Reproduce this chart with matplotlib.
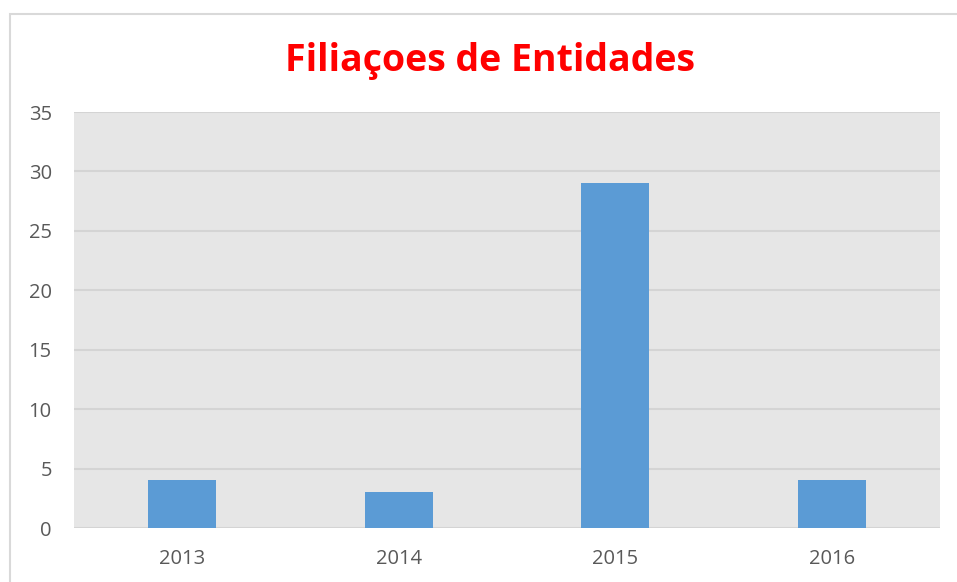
import matplotlib
matplotlib.use("Agg")
import matplotlib.pyplot as plt
from matplotlib.patches import Rectangle

years = ["2013", "2014", "2015", "2016"]
values = [4, 3, 29, 4]
yticks = [0, 5, 10, 15, 20, 25, 30, 35]

W, H = 957, 582
fig = plt.figure(figsize=(W / 100, H / 100), dpi=100)
fig.patch.set_facecolor("white")

# outer chart frame
fig.add_artist(Rectangle((10 / W, -0.05), 1.0, 1 - 14 / H + 0.05,
                         transform=fig.transFigure, fill=False,
                         edgecolor="#d9d9d9", linewidth=1.5))

ax = fig.add_axes([74 / W, 1 - 528 / H, (940 - 74) / W, (528 - 112) / H])
ax.set_facecolor("#e6e6e6")
x = range(len(years))
ax.bar(x, values, width=0.314, color="#5b9bd5", zorder=3)
ax.set_xlim(-0.5, len(years) - 0.5)
ax.set_ylim(0, 35)
ax.set_yticks(yticks)
ax.set_xticks(list(x))
ax.set_xticklabels(years)
ax.yaxis.grid(True, color="#d4d4d4", linewidth=1.5, zorder=1)
ax.set_axisbelow(True)
for s in ax.spines.values():
    s.set_visible(False)
ax.tick_params(axis="both", length=0, labelsize=14.5, colors="#595959",
               labelfontfamily="Open Sans")
ax.tick_params(axis="y", pad=16)
ax.tick_params(axis="x", pad=15)

fig.text(490 / W, 1 - 61 / H, "Filiaçoes de Entidades", ha="center", va="center",
         color="#ff0000", fontsize=27, fontweight="bold", family="Open Sans")

fig.savefig("out.png", dpi=100)
